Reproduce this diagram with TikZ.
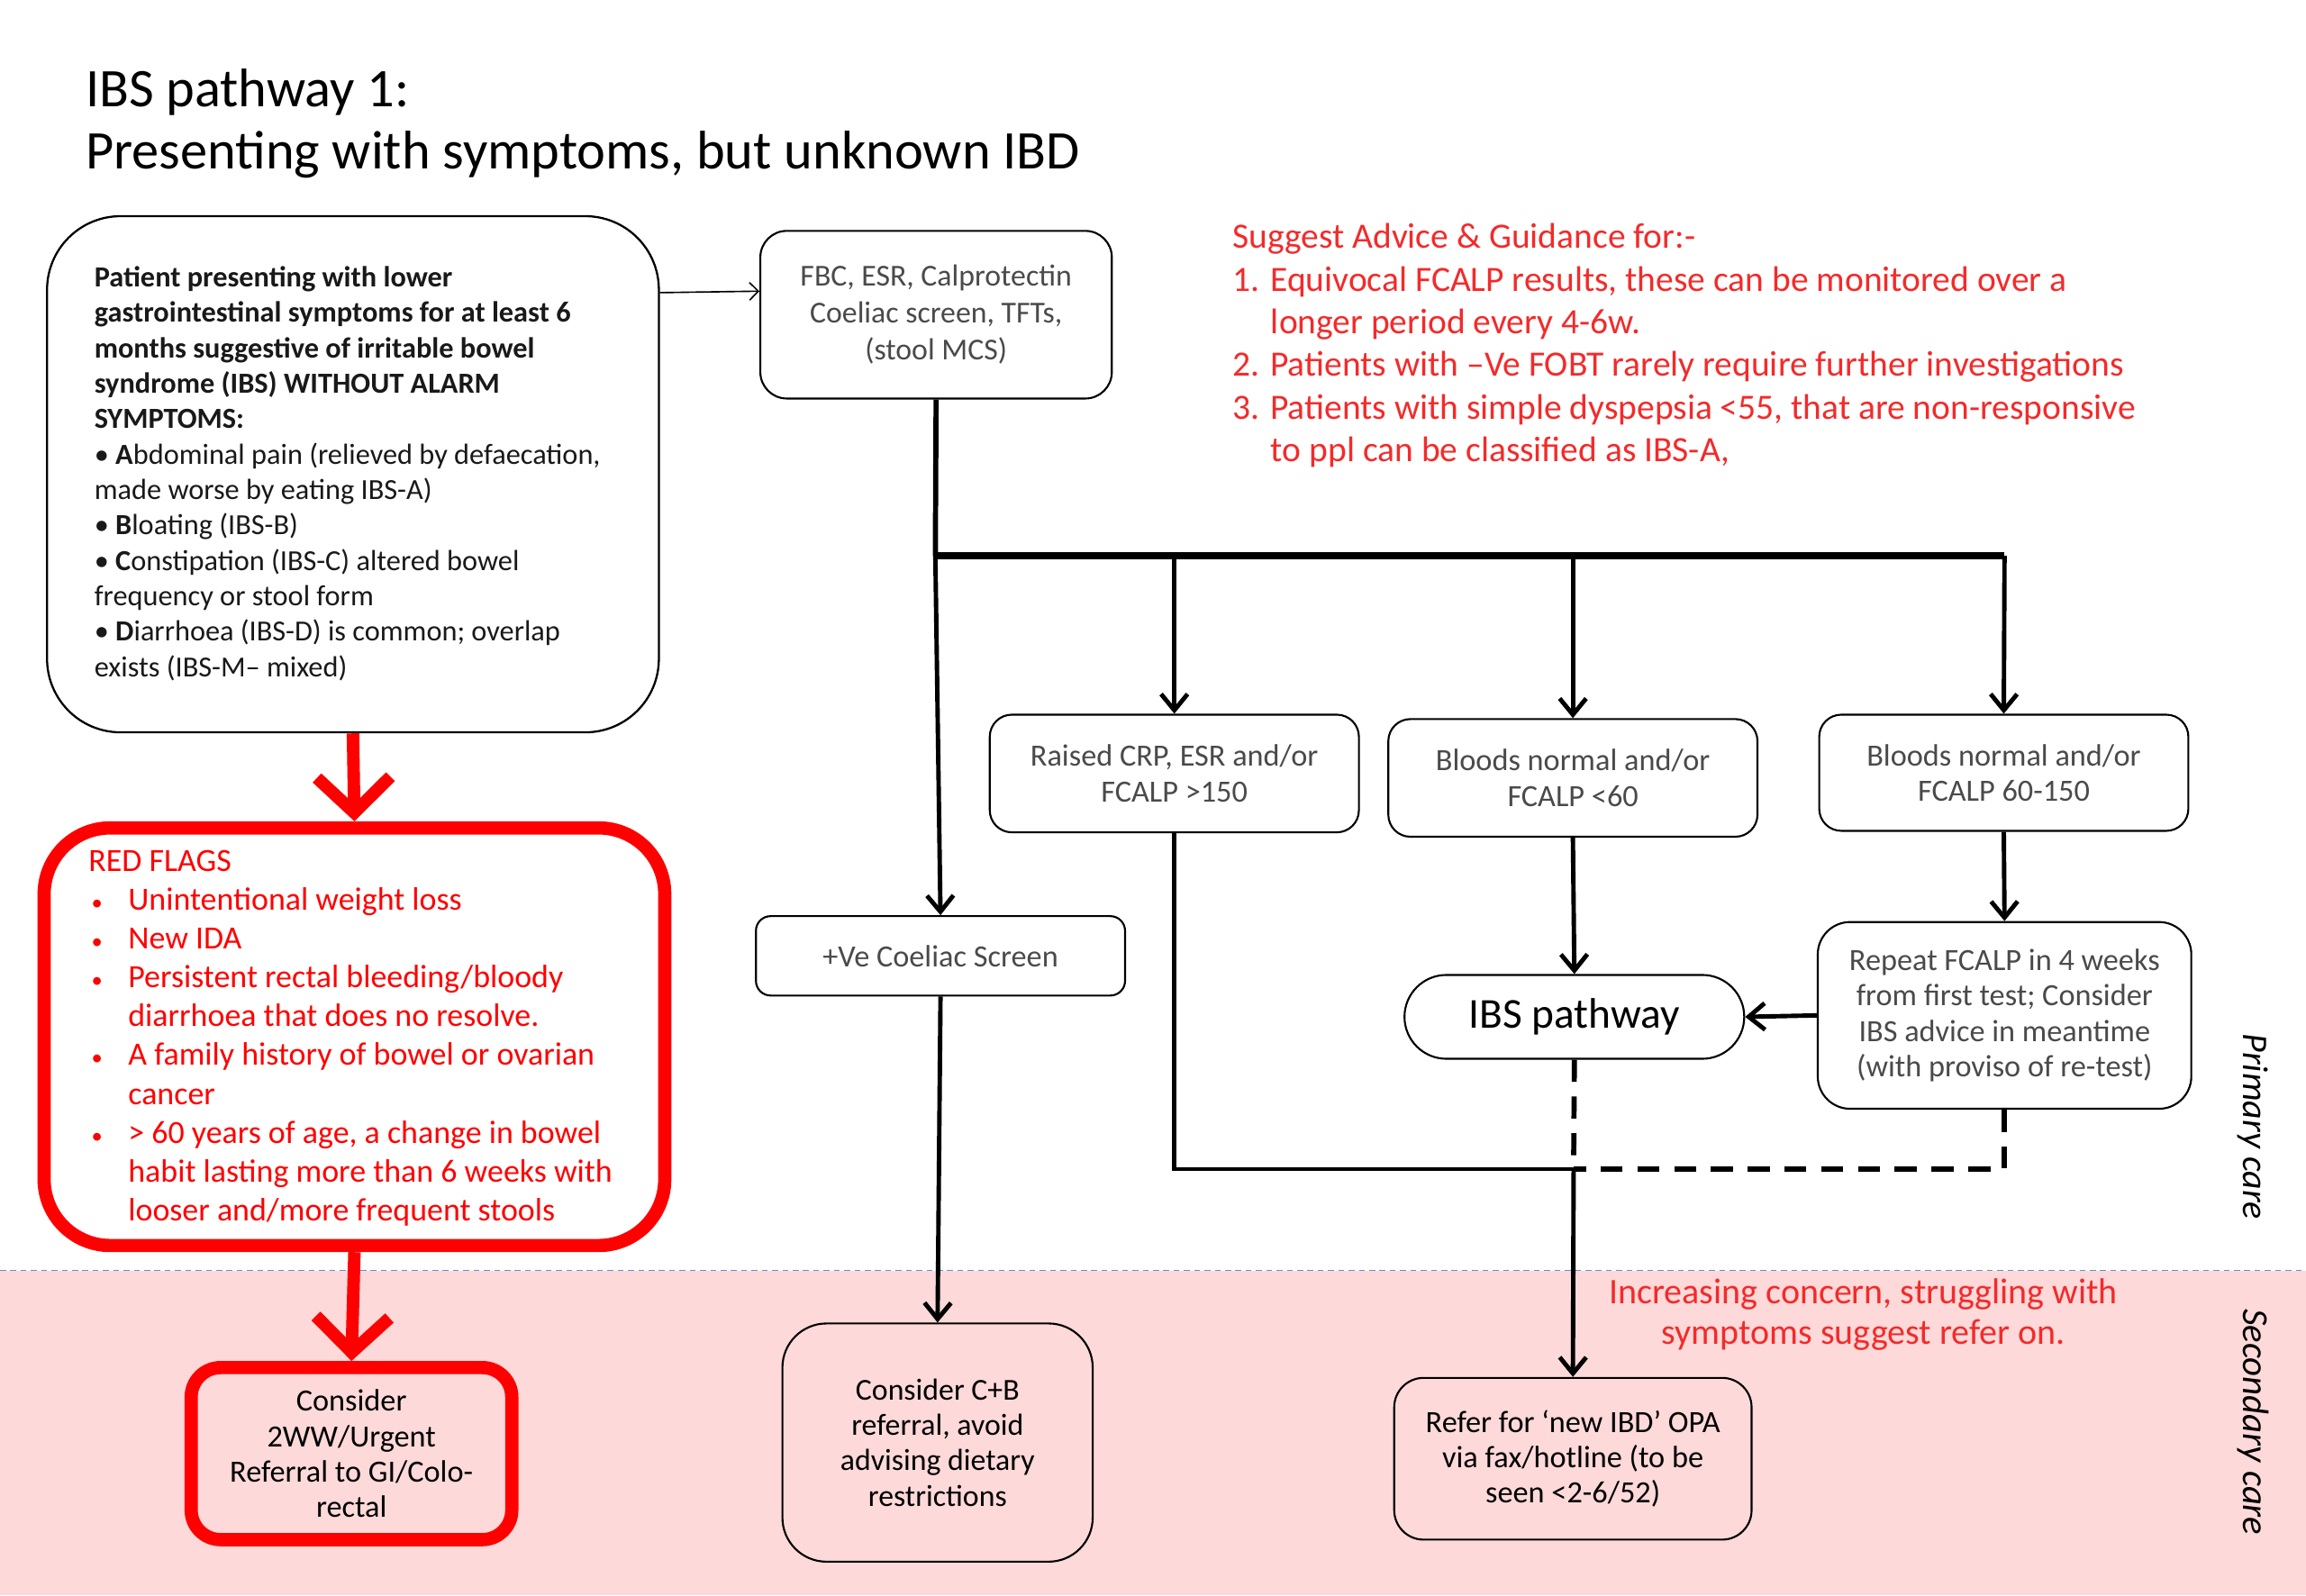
\documentclass[tikz,border=0pt]{standalone}
\usepackage{fontspec}
\setmainfont{Carlito}
\usetikzlibrary{arrows.meta,shapes.misc}
\definecolor{txtgray}{HTML}{4A4A4A}
\definecolor{advred}{HTML}{F42A2A}
\definecolor{flagred}{HTML}{FF0000}
\definecolor{pinkbg}{HTML}{FDD9D9}
\definecolor{sepblue}{HTML}{6A8CC8}
\begin{document}
\begin{tikzpicture}[x=1pt,y=-1pt,
  gbox/.style={draw=black, line width=1.3pt, rounded corners=#1, align=center, inner sep=0pt, text=txtgray,
    font=\fontsize{21}{24}\selectfont},
  gbox/.default=15pt,
  kbox/.style={draw=black, line width=1.3pt, rounded corners=#1, align=center, inner sep=0pt, text=black,
    font=\fontsize{21}{24}\selectfont},
  kbox/.default=20pt,
  arr/.style={line width=3pt, -{Straight Barb[length=11pt,width=18pt]}},
  thick3/.style={line width=3pt},
  redarr/.style={line width=8.5pt, draw=flagred, -{Straight Barb[length=24pt,width=50pt]}},
]
\useasboundingbox (0,0) rectangle (1568,1085);
% background
\fill[white] (0,0) rectangle (1568,1085);
\fill[pinkbg] (0,864) rectangle (1568,1085);
\draw[sepblue, line width=1pt, dash pattern=on 4pt off 3pt] (0,864) -- (1568,864);

% title
\node[anchor=west, align=left, font=\fontsize{37}{42}\selectfont, inner sep=0pt] (title) at (58,84)
  {IBS pathway 1:\\Presenting with symptoms, but unknown IBD};

% patient box
\node[draw=black, line width=1.4pt, rounded corners=50pt, minimum width=416pt, minimum height=351pt, inner sep=0pt] (pat) at (240,322.5) {};
\node[anchor=west, align=left, inner sep=0pt, font=\fontsize{19.8}{24.1}\selectfont, text=black!90] (pattxt) at (64,322)
  {\textbf{Patient presenting with lower}\\
   \textbf{gastrointestinal symptoms for at least 6}\\
   \textbf{months suggestive of irritable bowel}\\
   \textbf{syndrome (IBS) WITHOUT ALARM}\\
   \textbf{SYMPTOMS:}\\
   • \textbf{A}bdominal pain (relieved by defaecation,\\
   made worse by eating IBS-A)\\
   • \textbf{B}loating (IBS-B)\\
   • \textbf{C}onstipation (IBS-C) altered bowel\\
   frequency or stool form\\
   • \textbf{D}iarrhoea (IBS-D) is common; overlap\\
   exists (IBS-M– mixed)};

% FBC box
\node[gbox=18pt, minimum width=239pt, minimum height=114pt, font=\fontsize{20.7}{25}\selectfont] (fbc) at (636.5,214)
  {FBC, ESR, Calprotectin\\Coeliac screen, TFTs,\\(stool MCS)};
\draw[line width=1pt, -{Straight Barb[length=6pt,width=12pt]}] (pat.east |- 0,199) -- (fbc.west |- 0,198);

% advice text
\node[anchor=west, align=left, inner sep=0pt, text=advred, font=\fontsize{24.2}{29}\selectfont] (adv) at (838,235)
  {Suggest Advice \& Guidance for:-\\
   1. Equivocal FCALP results, these can be monitored over a\\
   \hspace*{26pt}longer period every 4-6w.\\
   2. Patients with –Ve FOBT rarely require further investigations\\
   3. Patients with simple dyspepsia <55, that are non-responsive\\
   \hspace*{26pt}to ppl can be classified as IBS-A,};

% second row boxes
\node[gbox, minimum width=251pt, minimum height=80pt] (crp) at (798.5,526) {Raised CRP, ESR and/or\\FCALP >150};
\node[gbox, minimum width=251pt, minimum height=80pt] (b60) at (1069.5,529) {Bloods normal and/or\\FCALP <60};
\node[gbox, minimum width=251pt, minimum height=79pt] (b150) at (1362.5,525.5) {Bloods normal and/or\\FCALP 60-150};

% coeliac
\node[gbox=10pt, minimum width=251pt, minimum height=54pt] (coel) at (639.5,650) {+Ve Coeliac Screen};

% IBS pathway
\node[draw=black, line width=1.3pt, rounded rectangle, minimum width=231pt, minimum height=57pt, inner sep=0pt,
  font=\fontsize{29}{34}\selectfont] (ibs) at (1070.5,691.5) {IBS pathway};

% repeat
\node[gbox=22pt, minimum width=254pt, minimum height=127pt] (rep) at (1363,690.5)
  {Repeat FCALP in 4 weeks\\from first test; Consider\\IBS advice in meantime\\(with proviso of re-test)};

% bottom boxes
\node[kbox=30pt, minimum width=211pt, minimum height=162pt, font=\fontsize{20.7}{24}\selectfont] (cb) at (637.5,981)
  {Consider C+B\\referral, avoid\\advising dietary\\restrictions};
\node[kbox=20pt, minimum width=243pt, minimum height=110pt] (ref) at (1069.5,992)
  {Refer for ‘new IBD’ OPA\\via fax/hotline (to be\\seen <2-6/52)};

% red flags
\node[draw=flagred, line width=9pt, rounded corners=45pt, minimum width=422pt, minimum height=284pt, inner sep=0pt] (flags) at (241,705) {};
\newcommand{\fbul}{\hspace*{2pt}\makebox[25pt][l]{\fontsize{15}{15}\selectfont•}}
\node[anchor=west, align=left, inner sep=0pt, text=flagred, font=\fontsize{22}{26.4}\selectfont] (flagtxt) at (60,706)
  {RED FLAGS\\
   \fbul Unintentional weight loss\\
   \fbul New IDA\\
   \fbul Persistent rectal bleeding/bloody\\
   \hspace*{27pt}diarrhoea that does no resolve.\\
   \fbul A family history of bowel or ovarian\\
   \hspace*{27pt}cancer\\
   \fbul > 60 years of age, a change in bowel\\
   \hspace*{27pt}habit lasting more than 6 weeks with\\
   \hspace*{27pt}looser and/more frequent stools};

\node[draw=flagred, line width=9pt, rounded corners=20pt, minimum width=218pt, minimum height=117pt, inner sep=0pt,
  align=center, font=\fontsize{21}{24}\selectfont] (ww) at (239,988.5)
  {Consider\\2WW/Urgent\\Referral to GI/Colo-\\rectal};

\draw[redarr] (pat.south) -- (flags.north);
\draw[redarr] (flags.south) -- (ww.north);

% main tree
\coordinate (j0) at (636,378);
\draw[line width=3.5pt] (fbc.south) -- (j0);
\draw[arr] (j0) -- (coel.north);
\draw[line width=4.5pt] (j0) -- (1363,378) coordinate (j3);
\draw[arr] (crp.north |- j0) -- (crp.north);
\draw[arr] (b60.north |- j0) -- (b60.north);
\draw[arr] (j3) -- (b150.north);
\draw[arr] (coel.south) -- (cb.north);
\draw[arr] (b60.south) -- (ibs.north);
\draw[arr] (b150.south) -- (rep.north);
\draw[arr] (rep.west) -- (ibs.east);

\coordinate (m) at (1070,795);
\draw[thick3] (crp.south) |- (m);
\draw[arr] (m) -- (ref.north);
\draw[line width=3.5pt, dash pattern=on 15pt off 10pt] (ibs.south) -- (m);
\draw[line width=3.5pt, dash pattern=on 15pt off 10pt] (rep.south) |- (m);

% notes
\node[align=center, inner sep=0pt, text=advred, font=\fontsize{24.5}{28}\selectfont] (conc) at (1267,894)
  {Increasing concern, struggling with\\symptoms suggest refer on.};
\node[rotate=-90, inner sep=0pt, font=\itshape\fontsize{24.5}{26}\selectfont] (prim) at (1532,766) {Primary care};
\node[rotate=-90, inner sep=0pt, font=\itshape\fontsize{25}{26}\selectfont] (sec) at (1532,967) {Secondary care};
\end{tikzpicture}
\end{document}
